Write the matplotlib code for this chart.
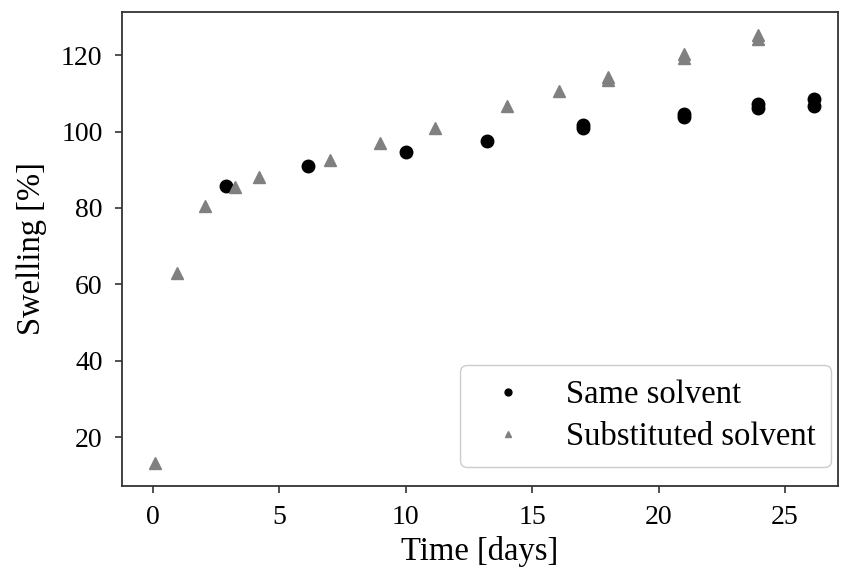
import matplotlib
matplotlib.use("Agg")
import matplotlib.pyplot as plt

plt.rcParams['font.family'] = ['Liberation Serif', 'DejaVu Serif']
plt.rcParams['mathtext.fontset'] = 'stix'

# Same solvent (replicates share the same day)
same_days = [2.9, 6.15, 10.0, 13.2, 17.0, 17.0, 21.0, 21.0, 23.95, 23.95, 26.15, 26.15]
same_swelling = [85.8, 90.9, 94.6, 97.5, 100.9, 101.7, 103.9, 104.5, 106.1, 107.1, 106.8, 108.4]

# Substituted solvent
subst_days = [0.08, 0.94, 2.06, 3.24, 4.2, 7.02, 9.0, 11.15, 14.0, 16.05,
              18.0, 18.0, 21.0, 21.0, 23.95, 23.95]
subst_swelling = [13.1, 63.0, 80.6, 85.5, 88.1, 92.6, 96.9, 100.8, 106.6, 110.7,
                  113.4, 114.2, 119.2, 120.2, 124.3, 125.4]

xticks = [0, 5, 10, 15, 20, 25]
yticks = [20, 40, 60, 80, 100, 120]

fig = plt.figure(figsize=(8.41, 5.71), dpi=100)
ax = fig.add_axes([0.145, 0.149, 0.8515, 0.830])

ax.plot(same_days, same_swelling, linestyle='none', marker='o', markersize=9,
        color='black', label='Same solvent')
ax.plot(subst_days, subst_swelling, linestyle='none', marker='^', markersize=9,
        color='gray', label='Substituted solvent')

ax.set_xlim(-1.22, 27.1)
ax.set_ylim(7.2, 131.3)
ax.set_xticks(xticks)
ax.set_yticks(yticks)
ax.tick_params(labelsize=20, length=5, width=1.2, color='#333333')
ax.tick_params(axis='x', pad=9)
ax.tick_params(axis='y', pad=9)
for s in ax.spines.values():
    s.set_linewidth(1.3)
    s.set_color('#333333')

ax.set_xlabel('Time [days]', fontsize=23.5, labelpad=4)
ax.set_ylabel('Swelling [%]', fontsize=23.5, labelpad=10)

ax.legend(loc='lower right', bbox_to_anchor=(0.990, 0.040), borderaxespad=0,
          fontsize=23.5, markerscale=0.55, handletextpad=0.8,
          borderpad=0.45, labelspacing=0.35, framealpha=1, edgecolor='#cccccc')

fig.savefig('out.png', dpi=100)
